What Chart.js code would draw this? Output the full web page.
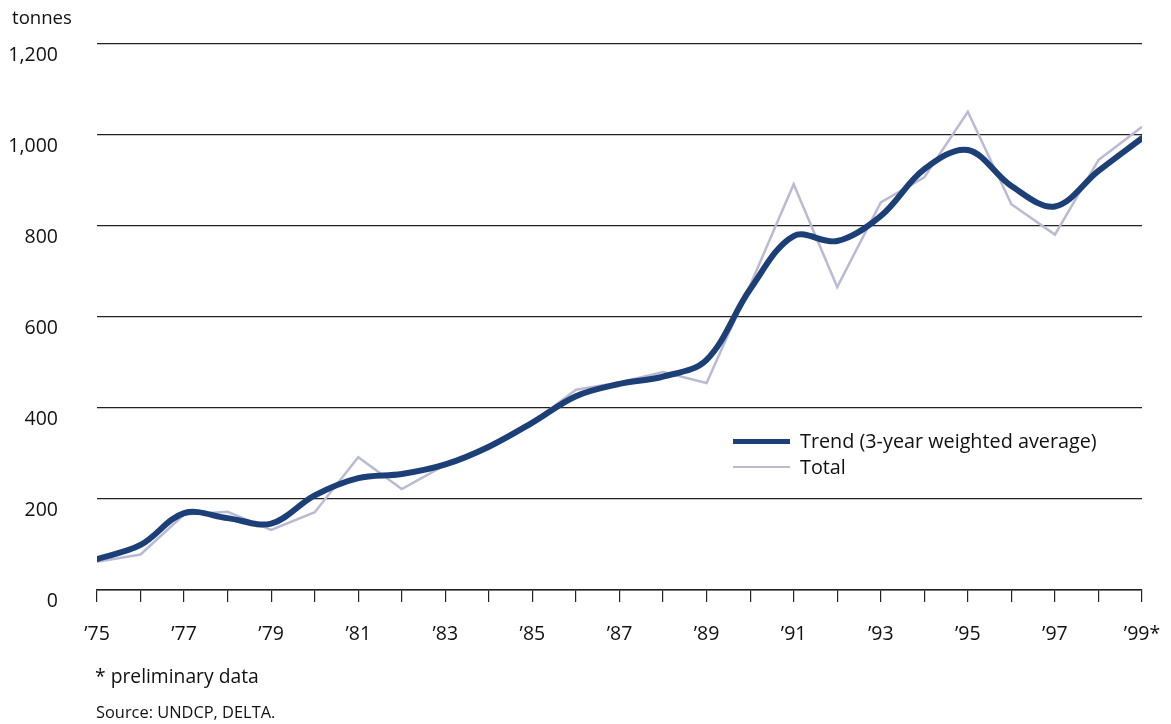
<!DOCTYPE html>
<html>
<head>
<meta charset="utf-8">
<script src="https://cdn.jsdelivr.net/npm/chart.js@4.4.1/dist/chart.umd.min.js"></script>
<style>
  html, body { margin: 0; padding: 0; background: #fff; }
  body { width: 1171px; height: 724px; position: relative; overflow: hidden; font-family: "Open Sans", sans-serif; color: #111; }
  #wrap { position: absolute; left: 0; top: 0; width: 1171px; height: 724px; }
  .unit { position: absolute; left: 12px; top: 4px; font-size: 18.6px; }
  .note { position: absolute; left: 95px; top: 662px; font-size: 19.3px; }
  .source { position: absolute; left: 96px; top: 700px; font-size: 16.4px; }
  #legend { position: absolute; left: 733px; top: 428px; font-size: 19.8px; line-height: 26px; }
  #legend .row { display: flex; align-items: center; height: 26px; }
  #legend .swatch { width: 57px; margin-right: 10px; }
</style>
</head>
<body>
<div id="wrap"><canvas id="chart" width="1171" height="724"></canvas></div>
<div class="unit">tonnes</div>
<div id="legend"></div>
<div class="note">* preliminary data</div>
<div class="source">Source: UNDCP, DELTA.</div>
<script>
const years = [1975, 1976, 1977, 1978, 1979, 1980, 1981, 1982, 1983, 1984, 1985, 1986,
               1987, 1988, 1989, 1990, 1991, 1992, 1993, 1994, 1995, 1996, 1997, 1998, 1999];
const totalValues = [62, 78, 166, 172, 132, 171, 292, 222, 275, 315, 368, 440,
                     456, 479, 455, 670, 892, 666, 852, 907, 1051, 848, 781, 945, 1018];
const trendValues = [68, 99, 169, 158, 146, 208, 246, 255, 276, 315, 368, 426,
                     453, 469, 506, 661, 778, 767, 822, 925, 967, 888, 843, 921, 993];
const yTicks = [0, 200, 400, 600, 800, 1000, 1200];

const FONT = '"Open Sans", sans-serif';
const navy = '#1d3f78';
const lilac = '#babbd2';

const toPoints = vals => vals.map((v, i) => ({ x: years[i], y: v }));

const chart = new Chart(document.getElementById('chart').getContext('2d'), {
    type: 'line',
    data: {
        datasets: [
            {
                label: 'Trend (3-year weighted average)',
                data: toPoints(trendValues),
                borderColor: navy,
                borderWidth: 6,
                tension: 0.35,
                pointRadius: 0,
                borderCapStyle: 'round',
                order: 0
            },
            {
                label: 'Total',
                data: toPoints(totalValues),
                borderColor: lilac,
                borderWidth: 2.5,
                tension: 0,
                pointRadius: 0,
                order: 1
            }
        ]
    },
    options: {
        responsive: false,
        animation: false,
        layout: { padding: { top: 44, right: 29, left: 0, bottom: 0 } },
        plugins: {
            legend: { display: false },
            tooltip: { enabled: false }
        },
        scales: {
            x: {
                type: 'linear',
                min: 1975,
                max: 1999,
                afterFit(scale) {
                    scale.height = 134;
                    scale.paddingLeft = 0;
                    scale.paddingRight = 0;
                },
                afterBuildTicks(scale) { scale.ticks = years.map(v => ({ value: v })); },
                border: { display: true, color: '#222', width: 1.5 },
                grid: { drawOnChartArea: false, drawTicks: true, tickLength: 12, color: '#222', lineWidth: 1.2 },
                ticks: {
                    autoSkip: false,
                    maxRotation: 0,
                    padding: 21,
                    color: '#111',
                    font: { family: FONT, size: 19.5 },
                    callback: v => {
                        if ((v - 1975) % 2 !== 0) return '';
                        return '\u2019' + String(v).slice(2) + (v === 1999 ? '*' : '');
                    }
                }
            },
            y: {
                min: 0,
                max: 1200,
                afterFit(scale) {
                    scale.width = 97;
                    scale.paddingTop = 0;
                    scale.paddingBottom = 0;
                },
                afterBuildTicks(scale) { scale.ticks = yTicks.map(v => ({ value: v })); },
                border: { display: false },
                grid: { drawTicks: false, color: '#222', lineWidth: 1.2 },
                ticks: {
                    padding: 39,
                    labelOffset: 11,
                    color: '#111',
                    font: { family: FONT, size: 19.5 },
                    callback: v => v.toLocaleString('en-US')
                }
            }
        }
    }
});

// legend built from the datasets
const legendEl = document.getElementById('legend');
legendEl.innerHTML = chart.data.datasets.map(ds => `
    <div class="row">
        <div class="swatch" style="height:${ds.borderWidth < 3 ? 2.5 : 5}px;background:${ds.borderColor}"></div>
        <span>${ds.label}</span>
    </div>`).join('');
</script>
</body>
</html>
